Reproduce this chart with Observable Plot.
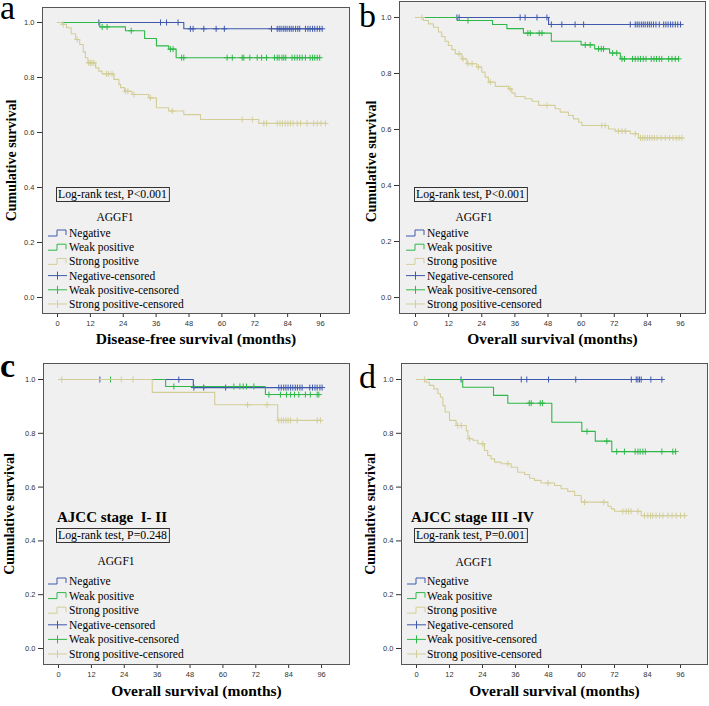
<!DOCTYPE html>
<html><head><meta charset="utf-8">
<script src="https://cdn.jsdelivr.net/npm/d3@7"></script>
<script src="https://cdn.jsdelivr.net/npm/@observablehq/plot@0.6"></script>
<style>
body{margin:0;background:#fff}
#wrap{position:relative;width:709px;height:706px;overflow:hidden;background:#fff}
.panel{position:absolute}
</style>
</head><body><div id="wrap"></div>
<script>
// ---------- categories / labels ----------
const groups = ["Negative", "Weak positive", "Strong positive"];
const groupColors = ["#3E58AC", "#2EB848", "#D3CE97"];
const legendLabels = ["Negative", "Weak positive", "Strong positive",
  "Negative-censored", "Weak positive-censored", "Strong positive-censored"];
const xTickValues = [0, 12, 24, 36, 48, 60, 72, 84, 96];
const yTickValues = [0, 0.2, 0.4, 0.6, 0.8, 1.0];

// ---------- panel a: disease-free survival ----------
const aNegSteps = [[0,1],[46.1,0.977]];
const aNegCens = [15.1,37.6,39.8,44.0,48.5,49.5,53.4,57.9,60.9,78.1,80.2,80.9,81.6,82.4,83.1,83.8,84.6,85.3,86.0,86.9,87.7,88.4,90.5,91.4,92.2,93.1,93.9,94.8,95.7,96.6];
const aWeakSteps = [[0,1],[15.4,0.984],[24.8,0.970],[31.8,0.942],[36.1,0.915],[40.6,0.903],[43.3,0.872]];
const aWeakCens = [16.3,18.1,26.9,41.2,42.2,45.3,46.1,61.9,63.8,67.4,68.0,70.2,72.9,74.5,76.3,79.2,80.2,80.9,81.9,82.6,83.3,85.6,86.6,87.5,88.4,89.3,90.5,92.2,93.1,93.9,94.8,95.7];
const aStrongSteps = [[0,1],[1.7,0.993],[3.3,0.981],[5.0,0.959],[6.6,0.938],[8.1,0.92],[9.4,0.893],[10.2,0.872],[11.1,0.853],[13.9,0.835],[15.1,0.823],[16.3,0.813],[20.6,0.793],[22.4,0.775],[23.0,0.763],[24.5,0.75],[27.2,0.738],[33.3,0.726],[36.1,0.69],[40.6,0.678],[46.1,0.665],[52.2,0.647],[73.5,0.633]];
const aStrongCens = [2.1,7.2,11.4,12.0,12.6,13.3,17.9,18.7,19.9,24.8,25.7,27.9,33.9,41.9,67.4,71.1,75.3,76.3,80.2,81.2,82.1,83.1,84.1,85.0,86.0,87.5,88.7,91.1,93.5,94.8,96.2,97.8];

// ---------- panel b: overall survival ----------
const bNegSteps = [[0,1],[48.2,0.975]];
const bNegCens = [15.0,15.8,37.9,39.7,44.0,47.6,49.2,53.0,57.8,60.9,77.8,79.6,80.3,81.0,81.8,82.5,83.2,84.0,84.7,85.4,86.2,87.1,88.3,89.9,90.7,91.5,92.4,93.2,94.1,95.0,96.0];
const bWeakSteps = [[0,1],[15.2,0.989],[27.9,0.975],[33.1,0.96],[39.1,0.944],[49.2,0.915],[60.0,0.902],[64.9,0.888],[70.3,0.873],[74.2,0.852]];
const bWeakCens = [19.0,40.7,41.6,44.8,45.8,61.5,63.3,66.3,67.3,68.1,71.4,72.9,74.8,75.7,78.6,79.6,80.6,81.5,82.5,83.5,85.4,86.4,87.3,88.3,89.2,91.7,92.9,94.1,95.3];
const bStrongSteps = [[0,1],[2.9,0.989],[4.7,0.977],[6.5,0.965],[8.3,0.948],[9.5,0.932],[10.7,0.915],[11.9,0.9],[13.2,0.885],[14.4,0.87],[16.8,0.852],[18.6,0.835],[22.2,0.823],[24.0,0.805],[25.2,0.787],[26.4,0.769],[28.9,0.754],[33.7,0.745],[34.9,0.73],[36.1,0.718],[39.7,0.71],[42.2,0.701],[44.6,0.686],[50.6,0.674],[52.4,0.662],[55.4,0.65],[57.2,0.638],[59.1,0.626],[60.3,0.614],[69.9,0.602],[72.3,0.594],[77.8,0.585],[80.8,0.57]];
const bStrongCens = [2.3,15.8,17.2,19.0,20.5,22.8,27.1,34.3,47.6,67.5,68.7,73.5,74.8,76.0,79.6,81.5,82.3,83.1,84.0,84.8,85.6,86.5,87.5,89.0,90.5,92.0,93.3,94.5,95.5,96.5];

// ---------- panel c: AJCC stage I-II ----------
const cNegSteps = [[0,1],[49.2,0.97]];
const cNegCens = [15.1,43.9,49.4,53.0,61.0,80.4,81.3,82.2,83.0,83.8,84.7,85.5,86.4,87.2,88.1,88.9,91.7,92.7,93.6,94.4,95.4,96.2];
const cWeakSteps = [[0,1],[39.1,0.974],[75.5,0.944]];
const cWeakCens = [19.0,42.1,64.0,66.2,67.4,68.6,71.3,76.8,81.0,83.2,84.7,86.1,87.7,90.1,91.9,94.4,95.0];
const cStrongSteps = [[0,1],[34.2,0.952],[57.0,0.906],[80.0,0.848]];
const cStrongCens = [1.2,22.9,27.2,69.0,76.1,80.4,81.3,82.1,83.0,83.8,84.7,87.1,94.4,95.6];

// ---------- panel d: AJCC stage III-IV ----------
const dNegSteps = [[0,1]];
const dNegCens = [16.2,38.1,40.1,48.0,57.9,78.1,79.9,80.5,81.1,81.7,85.2,89.2];
const dWeakSteps = [[0,1],[16.8,0.971],[28.0,0.941],[33.2,0.912],[49.2,0.841],[60.1,0.807],[65.0,0.771],[71.0,0.732]];
const dWeakCens = [41.0,41.7,45.0,45.8,62.0,69.2,72.8,75.6,79.5,80.5,81.3,82.3,83.2,89.2,93.2,94.2];
const dStrongSteps = [[0,1],[3.5,0.99],[4.7,0.978],[6.3,0.965],[7.8,0.947],[8.7,0.934],[9.6,0.903],[10.4,0.879],[12.0,0.848],[14.4,0.829],[18.1,0.81],[18.7,0.78],[20.5,0.774],[22.3,0.761],[24.7,0.736],[25.9,0.717],[27.1,0.705],[28.4,0.693],[30.8,0.687],[34.4,0.674],[36.8,0.655],[39.3,0.647],[41.1,0.633],[42.9,0.625],[45.3,0.615],[50.2,0.606],[52.6,0.594],[55.0,0.584],[57.5,0.569],[59.9,0.544],[69.6,0.529],[70.8,0.519],[72.0,0.51],[81.7,0.494]];
const dStrongCens = [2.9,15.0,16.3,19.3,24.1,33.2,47.8,61.1,68.1,75.0,76.2,77.1,78.0,80.5,82.9,84.1,85.1,85.9,87.1,88.4,89.6,91.4,92.9,94.4,96.0,97.5];

// ---------- panel texts ----------
const panelLetters = ["a", "b", "c", "d"];
const xAxisTitles = ["Disease-free survival (months)", "Overall survival (months)", "Overall survival (months)", "Overall survival (months)"];
const yAxisTitle = "Cumulative survival";
const logRankTexts = ["Log-rank test, P<0.001", "Log-rank test, P<0.001", "Log-rank test, P=0.248", "Log-rank test, P=0.001"];
const stageTexts = [null, null, "AJCC stage  I- II", "AJCC stage III -IV"];
const legendTitle = "AGGF1";

// ---------- layout (positions only) ----------
const layouts = [
  {left:0, top:0, width:354, height:355, mL:42, mR:5, mT:7, mB:42, xd:[-5.48,106.58], yd:[-0.0582,1.0545],
   letterX:0, letterY:19, letterBold:false, yDx:-31, yDy:0, xDy:30,
   boxX:56, boxY:187, aggX:115, aggY:217, row0:233, rowStep:14.2, swX:48, txX:69},
  {left:354, top:0, width:355, height:355, mL:45, mR:4, mT:1, mB:42, xd:[-5.8,105.05], yd:[-0.057,1.057],
   letterX:5, letterY:27, letterBold:false, yDx:-27.5, yDy:4, xDy:30,
   boxX:60, boxY:187, aggX:120, aggY:217, row0:233, rowStep:14.2, swX:52, txX:73},
  {left:0, top:355, width:354, height:351, mL:43, mR:5, mT:8, mB:42, xd:[-5.48,106.2], yd:[-0.0595,1.0595],
   letterX:0, letterY:22, letterBold:true, yDx:-33.5, yDy:0, xDy:31, stX:57, stY:167,
   boxX:56, boxY:173, aggX:116, aggY:206, row0:226, rowStep:14.6, swX:48, txX:69},
  {left:354, top:355, width:355, height:351, mL:47, mR:2, mT:8, mB:42, xd:[-5.45,105.8], yd:[-0.0595,1.0595],
   letterX:5, letterY:33, letterBold:false, yDx:-30.5, yDy:0, xDy:31, stX:57, stY:167,
   boxX:60, boxY:173, aggX:120, aggY:207, row0:226, rowStep:14.6, swX:53, txX:73}
];

const panelData = [
  [[aNegSteps,aNegCens],[aWeakSteps,aWeakCens],[aStrongSteps,aStrongCens]],
  [[bNegSteps,bNegCens],[bWeakSteps,bWeakCens],[bStrongSteps,bStrongCens]],
  [[cNegSteps,cNegCens],[cWeakSteps,cWeakCens],[cStrongSteps,cStrongCens]],
  [[dNegSteps,dNegCens],[dWeakSteps,dWeakCens],[dStrongSteps,dStrongCens]]
];

function survAt(steps, t) {
  let s = steps[0][1];
  for (const [tt, ss] of steps) if (tt <= t) s = ss;
  return s;
}

const serif = "'Liberation Serif', 'Times New Roman', serif";
const sans = "'Liberation Sans', Arial, sans-serif";
const wrap = document.getElementById("wrap");

panelData.forEach((series, pi) => {
  const L = layouts[pi];
  const lineRows = [], censRows = [];
  series.forEach(([steps, cens], gi) => {
    const g = groups[gi];
    steps.forEach(([t, s]) => lineRows.push({g, t, s}));
    const end = d3.max(cens.concat(steps.map(d => d[0])));
    lineRows.push({g, t: end, s: survAt(steps, end)});
    cens.forEach(t => censRows.push({g, t, s: survAt(steps, t)}));
  });
  const marks = [Plot.frame({fill: "#f0f0f0", stroke: "#555", strokeWidth: 1})];
  for (const g of groups) {
    marks.push(Plot.line(lineRows.filter(d => d.g === g), {x: "t", y: "s", stroke: "g", curve: "step-after", strokeWidth: 1.1}));
    marks.push(Plot.dot(censRows.filter(d => d.g === g), {x: "t", y: "s", stroke: "g", symbol: "plus", r: 2.1, strokeWidth: 1}));
  }
  marks.push(Plot.text([xAxisTitles[pi]], {frameAnchor: "bottom", textAnchor: "middle", dy: L.xDy, fontFamily: serif, fontSize: 15.5, fontWeight: "bold", fill: "#000"}));
  marks.push(Plot.text([yAxisTitle], {frameAnchor: "left", textAnchor: "middle", rotate: -90, dx: L.yDx, dy: L.yDy, fontFamily: serif, fontSize: 14, fontWeight: "bold", fill: "#000"}));

  const svg = Plot.plot({
    width: L.width, height: L.height,
    marginLeft: L.mL, marginRight: L.mR, marginTop: L.mT, marginBottom: L.mB,
    style: {background: "transparent", fontFamily: sans, fontSize: "7.5px", color: "#333", overflow: "visible"},
    x: {domain: L.xd, ticks: xTickValues, tickSize: 4, tickPadding: 3, label: null, tickFormat: d => String(d)},
    y: {domain: L.yd, ticks: yTickValues, tickSize: 5, tickPadding: 3, label: null, tickFormat: d3.format(".1f")},
    color: {domain: groups, range: groupColors},
    marks
  });
  const div = document.createElement("div");
  div.className = "panel";
  div.style.left = L.left + "px";
  div.style.top = L.top + "px";
  div.appendChild(svg);
  wrap.appendChild(div);

  const s = d3.select(svg);
  const lg = s.append("g").attr("class", "overlay").attr("text-anchor", "start");
  // panel letter
  lg.append("text").attr("x", L.letterX).attr("y", L.letterY).attr("text-anchor", "start")
    .attr("font-family", serif).attr("font-size", 34)
    .attr("font-weight", L.letterBold ? "bold" : "normal").attr("fill", "#000").text(panelLetters[pi]);
  // stage label
  if (stageTexts[pi]) {
    lg.append("text").attr("x", L.stX).attr("y", L.stY).attr("text-anchor", "start")
      .style("white-space", "pre")
      .attr("font-family", serif).attr("font-size", 15).attr("font-weight", "bold").attr("fill", "#000")
      .text(stageTexts[pi]);
  }
  // log-rank box
  const bt = lg.append("text").attr("x", L.boxX + 2).attr("y", L.boxY + 11).attr("text-anchor", "start")
    .attr("font-family", serif).attr("font-size", 11.8).attr("fill", "#000").text(logRankTexts[pi]);
  const bw = bt.node().getComputedTextLength();
  lg.append("rect").attr("x", L.boxX + 0.5).attr("y", L.boxY + 0.5)
    .attr("width", bw + 4).attr("height", 14).attr("fill", "none").attr("stroke", "#333").attr("stroke-width", 1);
  // legend title
  lg.append("text").attr("x", L.aggX).attr("y", L.aggY + 4).attr("text-anchor", "middle")
    .attr("font-family", serif).attr("font-size", 11.5).attr("fill", "#000").text(legendTitle);
  // legend rows
  legendLabels.forEach((lab, i) => {
    const y = L.row0 + i * L.rowStep;
    const col = groupColors[i % 3];
    if (i < 3) {
      lg.append("path").attr("d", `M${L.swX},${y+3}H${L.swX+9}V${y-3}H${L.swX+18}V${y+2}`)
        .attr("fill", "none").attr("stroke", col).attr("stroke-width", 1);
    } else {
      lg.append("path").attr("d", `M${L.swX},${y}H${L.swX+19}M${L.swX+9.5},${y-4}V${y+4}`)
        .attr("fill", "none").attr("stroke", col).attr("stroke-width", 1);
    }
    lg.append("text").attr("x", L.txX).attr("y", y + 4).attr("text-anchor", "start")
      .attr("font-family", serif).attr("font-size", 11.5).attr("fill", "#000").text(lab);
  });
});
</script></body></html>
